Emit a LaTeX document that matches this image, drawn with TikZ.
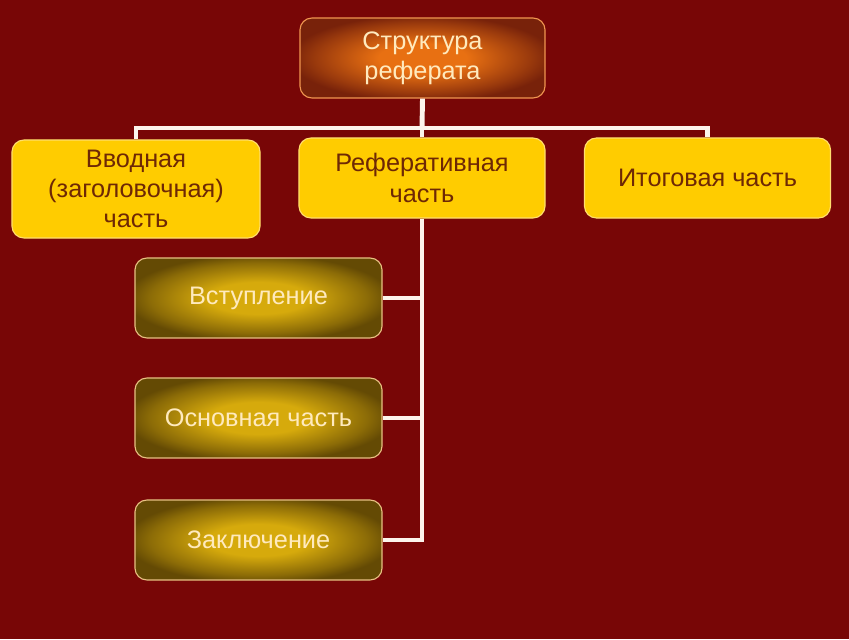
\documentclass[tikz,border=0pt]{standalone}
\usepackage{fontspec}
\setmainfont{Liberation Sans}
\usepackage{xcolor}
\usetikzlibrary{positioning}

\definecolor{bgred}{RGB}{120,6,6}
\definecolor{boxyellow}{RGB}{255,204,0}
\definecolor{yellowedge}{RGB}{255,222,110}
\definecolor{browntext}{RGB}{110,40,5}
\definecolor{topinner}{RGB}{232,112,18}
\definecolor{topouter}{RGB}{120,34,10}
\definecolor{topedge}{RGB}{240,150,80}
\definecolor{oliveinner}{RGB}{214,170,12}
\definecolor{oliveouter}{RGB}{100,74,4}
\definecolor{oliveedge}{RGB}{232,192,130}
\definecolor{creamtext}{RGB}{255,234,190}
\definecolor{linkwhite}{RGB}{252,244,236}

\pgfdeclareradialshading{topglow}{\pgfpoint{0bp}{0bp}}{color(0bp)=(topinner);
  color(9bp)=(topinner); color(22bp)=(topouter!70!topinner); color(27bp)=(topouter);
  color(50bp)=(topouter)}
\pgfdeclareradialshading{oliveglow}{\pgfpoint{0bp}{0bp}}{color(0bp)=(oliveinner);
  color(10bp)=(oliveinner); color(22bp)=(oliveouter!65!oliveinner); color(27bp)=(oliveouter);
  color(50bp)=(oliveouter)}

\tikzset{
  box/.style={rounded corners=0.3cm, align=center, inner sep=2pt,
    font=\fontsize{18pt}{21.5pt}\selectfont},
  topbox/.style={box, draw=topedge, line width=0.8pt, shading=topglow,
    text=creamtext, minimum width=6.125cm, minimum height=2cm},
  partbox/.style={box, draw=yellowedge, line width=0.8pt, fill=boxyellow,
    text=browntext, minimum width=6.15cm, minimum height=2cm},
  subbox/.style={box, draw=oliveedge, line width=0.8pt, shading=oliveglow,
    text=creamtext, minimum width=6.175cm, minimum height=2cm},
  link/.style={draw=linkwhite, line width=3.5pt}
}

\begin{document}
\begin{tikzpicture}[x=0.025cm, y=-0.025cm]
\useasboundingbox (0,0) rectangle (849,639);
\fill[bgred] (0,0) rectangle (849,639);
% ----- top level -----
\node[topbox] (top) at (422.5,58) {Структура\\реферата};
% ----- parts -----
\node[partbox, minimum width=6.2cm, minimum height=2.45cm] (intro) at (136,189) {Вводная\\(заголовочная)\\часть};
\node[partbox] (main) at (422,178) {Реферативная\\часть};
\node[partbox] (final) at (707.5,178) {Итоговая часть};
% ----- sections of the main part -----
\node[subbox] (s1) at (258.5,298) {Вступление};
\node[subbox] (s2) at (258.5,418) {Основная часть};
\node[subbox] (s3) at (258.5,540) {Заключение};
% ----- links -----
\coordinate (bar) at (422,128);
\draw[link] (top.south) -- (bar);
\draw[link] (intro.north) |- (bar) -| (final.north);
\draw[link] (bar) -- (main.north);
\draw[link] (main.south) |- (s3.east);
\draw[link] (s1.east) -- (s1.east -| main.south);
\draw[link] (s2.east) -- (s2.east -| main.south);
\end{tikzpicture}
\end{document}
